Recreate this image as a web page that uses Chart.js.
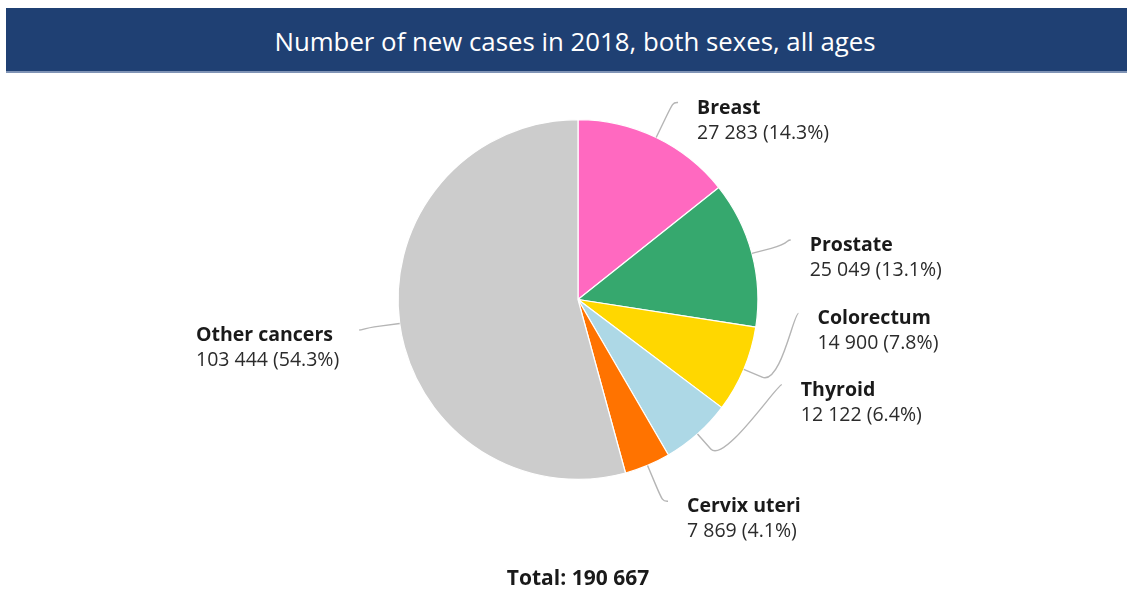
<!DOCTYPE html>
<html>
<head>
<meta charset="utf-8">
<script src="https://cdn.jsdelivr.net/npm/chart.js@4.4.1/dist/chart.umd.min.js"></script>
<style>
  html, body { margin: 0; padding: 0; background: #ffffff; }
  #wrap { position: relative; width: 1133px; height: 590px; overflow: hidden; }
  #titlebar {
    position: absolute; left: 6px; top: 8px; width: 1104px; height: 63px; padding-left: 17px;
    background: #1f4073; border-bottom: 2px solid #7f93b5;
    color: #ffffff; font-family: "Open Sans", sans-serif; font-size: 25.8px;
    line-height: 66px; text-align: center;
  }
  canvas { position: absolute; left: 0; top: 0; }
</style>
</head>
<body>
<div id="wrap">
  <canvas id="c" width="1133" height="590"></canvas>
  <div id="titlebar">Number of new cases in 2018, both sexes, all ages</div>
</div>
<script>
// ---- data ----
const categories = ["Breast", "Prostate", "Colorectum", "Thyroid", "Cervix uteri", "Other cancers"];
const values = [27283, 25049, 14900, 12122, 7869, 103444];
const percentLabels = ["14.3%", "13.1%", "7.8%", "6.4%", "4.1%", "54.3%"];
const totalLabel = "Total: 190 667";

// ---- styles / layout ----
const colors = ["#ff69c0", "#36a86e", "#ffd700", "#add8e6", "#ff7300", "#cccccc"];
const labelNudgeY = [2, -3, -72, -80, -2, 1];

function fmt(n) {
  return String(n).replace(/\B(?=(\d{3})+(?!\d))/g, " ");
}

const labelPlugin = {
  id: "pieLabels",
  afterDatasetsDraw(chart) {
    const ctx = chart.ctx;
    const meta = chart.getDatasetMeta(0);
    ctx.save();
    meta.data.forEach((arc, i) => {
      const p = arc.getProps(["x", "y", "startAngle", "endAngle", "outerRadius"], true);
      const mid = (p.startAngle + p.endAngle) / 2;
      const ux = Math.cos(mid), uy = Math.sin(mid);
      const r = p.outerRadius;
      const tx = p.x + r * ux, ty = p.y + r * uy;
      const bx = tx + 20 * ux, by = ty + 20 * uy;
      const R = r + 41;
      const ly = p.y + R * uy + labelNudgeY[i];
      const dy = ly - p.y;
      const right = ux >= 0;
      const lx = p.x + (right ? 1 : -1) * Math.sqrt(Math.max(R * R - dy * dy, 0));
      // connector
      ctx.strokeStyle = "#b5b5b5";
      ctx.lineWidth = 1.4;
      ctx.beginPath();
      ctx.moveTo(lx, ly);
      ctx.bezierCurveTo(lx + (right ? -5 : 5), ly, 2 * bx - tx, 2 * by - ty, bx, by);
      ctx.lineTo(tx, ty);
      ctx.stroke();
      // text
      const name = categories[i];
      const val = fmt(values[i]) + " (" + percentLabels[i] + ")";
      ctx.textBaseline = "alphabetic";
      ctx.textAlign = "left";
      ctx.font = "bold 19.5px 'Open Sans'";
      const w1 = ctx.measureText(name).width;
      ctx.font = "19.5px 'Open Sans'";
      const w2 = ctx.measureText(val).width;
      const wMax = Math.max(w1, w2);
      const x0 = right ? lx + 19 : lx - 20 - wMax;
      ctx.fillStyle = "#1a1a1a";
      ctx.font = "bold 19.5px 'Open Sans'";
      ctx.fillText(name, x0, ly + 11);
      ctx.fillStyle = "#2b2b2b";
      ctx.font = "19.5px 'Open Sans'";
      ctx.fillText(val, x0, ly + 36);
    });
    // total
    const a0 = meta.data[0];
    ctx.font = "bold 21px 'Open Sans'";
    ctx.textAlign = "center";
    ctx.fillStyle = "#1a1a1a";
    ctx.fillText(totalLabel, a0.x, 585);
    ctx.restore();
  }
};

new Chart(document.getElementById("c"), {
  type: "pie",
  data: {
    labels: categories,
    datasets: [{
      data: values,
      backgroundColor: colors,
      borderColor: "#ffffff",
      borderWidth: 1.2,
      hoverOffset: 0
    }]
  },
  options: {
    responsive: false,
    animation: false,
    layout: { padding: { top: 119, bottom: 110, left: 23, right: 0 } },
    plugins: {
      legend: { display: false },
      tooltip: { enabled: false },
      title: { display: false }
    }
  },
  plugins: [labelPlugin]
});
</script>
</body>
</html>
